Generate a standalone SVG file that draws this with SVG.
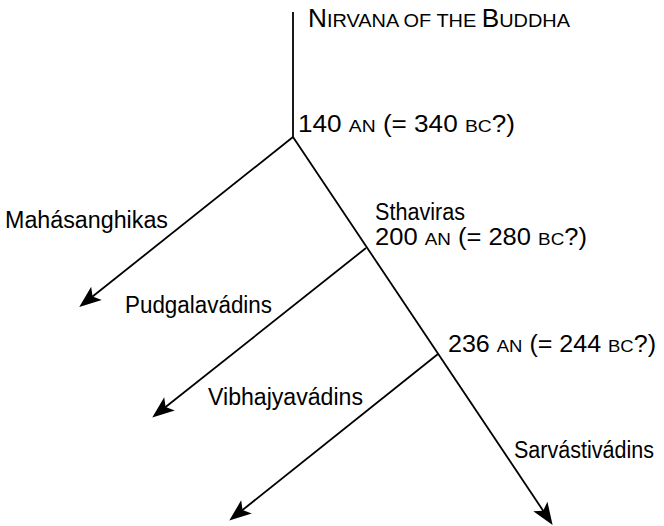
<svg xmlns="http://www.w3.org/2000/svg" width="664" height="526" viewBox="0 0 664 526">
<style>
.t{font-family:"Liberation Sans",Arial,sans-serif;font-size:23px;fill:#000}
.sc{font-size:17px}
.ti{font-size:25px}
.ln{stroke:#000;stroke-width:1.8;fill:none}
</style>
<defs>
<marker id="ah" viewBox="-16 -10 26 20" refX="0" refY="0" markerWidth="26" markerHeight="20" markerUnits="userSpaceOnUse" orient="auto">
<path d="M9,0 L-13,-8.5 L-8,0 L-13,8.5 Z" fill="#000"/>
</marker>
</defs>
<rect width="664" height="526" fill="#fff"/>
<g id="connectors">
<line class="ln" x1="293" y1="12" x2="293" y2="137"/>
<line class="ln" x1="293" y1="137" x2="86.3" y2="301.5" marker-end="url(#ah)"/>
<line class="ln" x1="293" y1="137" x2="547.6" y2="517.4" marker-end="url(#ah)"/>
<line class="ln" x1="366" y1="248" x2="159.3" y2="412" marker-end="url(#ah)"/>
<line class="ln" x1="438" y1="354" x2="236.3" y2="515" marker-end="url(#ah)"/>
</g>
<g id="nirvana"><text class="t ti" x="308" y="27" textLength="262" lengthAdjust="spacingAndGlyphs">N<tspan class="sc" style="font-size:19px">IRVANA OF THE </tspan>B<tspan class="sc" style="font-size:19px">UDDHA</tspan></text></g>
<g id="split140"><text class="t" x="298" y="132" textLength="217" lengthAdjust="spacingAndGlyphs">140 <tspan class="sc">AN</tspan> (= 340 <tspan class="sc">BC</tspan>?)</text></g>
<g id="mahasanghikas"><text class="t" x="5" y="228" textLength="163" lengthAdjust="spacingAndGlyphs">Mahásanghikas</text></g>
<g id="sthaviras"><text class="t" x="375" y="220" textLength="90" lengthAdjust="spacingAndGlyphs">Sthaviras</text><text class="t" x="375" y="245" textLength="212" lengthAdjust="spacingAndGlyphs">200 <tspan class="sc">AN</tspan> (= 280 <tspan class="sc">BC</tspan>?)</text></g>
<g id="pudgalavadins"><text class="t" x="125" y="313" textLength="147" lengthAdjust="spacingAndGlyphs">Pudgalavádins</text></g>
<g id="split236"><text class="t" x="448" y="352" textLength="208" lengthAdjust="spacingAndGlyphs">236 <tspan class="sc">AN</tspan> (= 244 <tspan class="sc">BC</tspan>?)</text></g>
<g id="vibhajyavadins"><text class="t" x="208" y="405" textLength="155" lengthAdjust="spacingAndGlyphs">Vibhajyavádins</text></g>
<g id="sarvastivadins"><text class="t" x="514" y="458" textLength="140" lengthAdjust="spacingAndGlyphs">Sarvástivádins</text></g>
</svg>
